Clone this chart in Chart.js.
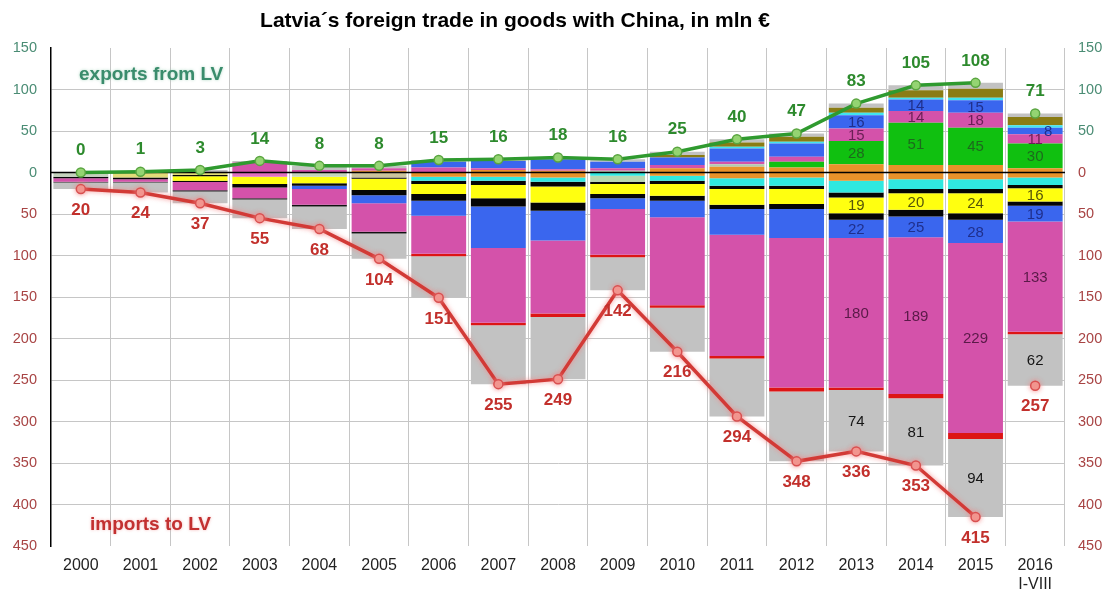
<!DOCTYPE html>
<html><head><meta charset="utf-8">
<script src="https://cdn.jsdelivr.net/npm/chart.js@4.4.1/dist/chart.umd.min.js"></script>
<style>html,body{margin:0;padding:0;background:#fff}canvas{display:block}</style>
</head><body>
<canvas id="c" width="1118" height="598"></canvas>
<script>
// ---------- DATA ----------
const categories = ['2000','2001','2002','2003','2004','2005','2006','2007','2008','2009','2010','2011','2012','2013','2014','2015',['2016','I-VIII']];
const exportsTotal = [0,1,3,14,8,8,15,16,18,16,25,40,47,83,105,108,71];
const importsTotal = [20,24,37,55,68,104,151,255,249,142,216,294,348,336,353,415,257];
const yTicks = [150,100,50,0,-50,-100,-150,-200,-250,-300,-350,-400,-450];

// export components (mln €), stacked upward from 0
const eOrange = [0,0,0,0,0,2, 0,3,2,0, 5,7,6,10,9,9,5];
const eTeal   = [0,0,0,0,0,0, 0,0,0,2, 0,3,0,0,0,0,0];
const eGreen  = [0,0,0,0,0,0, 0,0,0,0, 0,0,7,28,51,45,30];
const ePink   = [0,0,0,12,3,3, 6,2,2,3, 4,3,6,15,14,18,11];
const eBlue   = [0,0,0,0,0,0, 7,9,12,8, 9,16,16,16,14,15,8];
const eCyan   = [0,0,0,0,0,0, 0,0,0,0, 0,2,2,3,2,3,3];
const eOlive  = [0,0,0,0,0,0, 0,0,0,0, 3,5,6,6,9,11,10];
const eGray   = [0,1,3,2,5,3, 2,2,2,3, 4,4,4,5,6,7,4];

// import components (mln €), stacked downward from 0
const iOrange = [0,0,0,0,0,0, 5,5,6,0, 4,7,6,10,8,8,6];
const iTeal   = [0,0,0,0,0,0, 5,5,5,4, 6,9,10,14,12,12,9];
const iPale   = [5,6,3,5,5,6, 0,0,0,7, 0,0,0,0,0,0,0];
const iBlack1 = [2,2,1.5,0,0,1.5, 4,5,6,3, 4,4,4,6,5,5,4];
const iYellow = [0,0,5.5,9,8,13.5, 12,16,19,12, 14,19,18,19,20,24,16];
const iBlack2 = [0,0,1.5,4,3,6.5, 8,10,10,5, 6,5,6,8,8,8,5];
const iBlue   = [0,0,0,0,4,9.5, 18,50,36,13, 20,31,35,22,25,28,19];
const iPink   = [4,3,10,13,19,34.5, 46,90,88,55, 106,146,180,180,189,229,133];
const iRed    = [1,1,1.5,1.5,2,2, 3,3,4,3, 3,3,5,3,5,7,3];
const iGray   = [8,12,14,22.5,27,30.5, 50,71,75,40, 53,70,84,74,81,94,62];

// ---------- STYLE ----------
const FONT = "'Liberation Sans', Arial, sans-serif";
const GREEN_TXT = '#4a8c74', RED_TXT = '#a84444';
const n = categories.length;
const paleColors = ['#c4d2bc','#e2dc78','#e2dc78','#e070c0','#c4d4bc','#ccc49c','#c4d4bc','#c4d4bc','#c4d4bc','#b8d8b0','#ccc','#ccc','#ccc','#ccc','#ccc','#ccc','#ccc'];
const redColors = categories.map((c,i)=> i < 6 ? '#111111' : '#dd1515');

function bar(label, arr, color, sign, labelColor) {
  return { type:'bar', label, data: arr.map(v => sign*v), backgroundColor: color,
           yAxisID:'y', order: 1, borderWidth: 0, categoryPercentage: 0.92, barPercentage: 1.0,
           _lbl: labelColor || null };
}

const datasets = [
  { type:'line', label:'exports', data: exportsTotal, yAxisID:'y2', order:-2,
    borderColor:'#2f9a2f', borderWidth:3.5, pointRadius:4.5, pointBackgroundColor:'#94d472',
    pointBorderColor:'#5aa540', pointBorderWidth:1.5, tension:0, fill:false,
    segment:{ borderColor: c => c.p0DataIndex === n-2 ? 'rgba(0,0,0,0)' : undefined } },
  { type:'line', label:'imports', data: importsTotal.map(v=>-v), yAxisID:'y2', order:-1,
    borderColor:'#d23a36', borderWidth:3.5, pointRadius:4.5, pointBackgroundColor:'#f29a92',
    pointBorderColor:'#d85050', pointBorderWidth:1.5, tension:0, fill:false,
    segment:{ borderColor: c => c.p0DataIndex === n-2 ? 'rgba(0,0,0,0)' : undefined } },
  bar('eOrange', eOrange, '#e8922a', 1),
  bar('eTeal', eTeal, '#b0ccb0', 1),
  bar('eGreen', eGreen, '#10c010', 1, '#1d6a1d'),
  bar('ePink', ePink, '#d452aa', 1, '#6a1f55'),
  bar('eBlue', eBlue, '#3a66ee', 1, '#1f2f8c'),
  bar('eCyan', eCyan, '#40e4f0', 1),
  bar('eOlive', eOlive, '#8a7c14', 1),
  bar('eGray', eGray, '#c2c2c2', 1),
  bar('iOrange', iOrange, '#e8922a', -1),
  bar('iTeal', iTeal, '#30e8e0', -1),
  bar('iPale', iPale, paleColors, -1),
  bar('iBlack1', iBlack1, '#050505', -1),
  bar('iYellow', iYellow, '#ffff10', -1, '#55550a'),
  bar('iBlack2', iBlack2, '#050505', -1),
  bar('iBlue', iBlue, '#3a66ee', -1, '#1f2f8c'),
  bar('iPink', iPink, '#d452aa', -1, '#5a1a48'),
  bar('iRed', iRed, redColors, -1),
  bar('iGray', iGray, '#c2c2c2', -1, '#151515'),
];

const drawPlugin = {
  id:'drawPlugin',
  beforeDraw(chart){ chart._zeroDone = false; },
  beforeDatasetDraw(chart, args){
    if (args.meta.type === 'line' && !chart._zeroDone) {
      chart._zeroDone = true;
      const ctx = chart.ctx, a = chart.chartArea, y0 = chart.scales.y.getPixelForValue(0);
      ctx.save(); ctx.strokeStyle = '#000'; ctx.lineWidth = 1.5;
      ctx.beginPath(); ctx.moveTo(a.left, y0); ctx.lineTo(a.right, y0); ctx.stroke(); ctx.restore();
    }
    if (args.meta.type === 'line' && args.meta.label === 'imports') {
      const ctx = chart.ctx; ctx.save();
      ctx.shadowColor = 'rgba(245,130,130,0.85)'; ctx.shadowBlur = 5;
      chart._shadowed = true;
    }
  },
  afterDatasetDraw(chart, args){
    if (chart._shadowed && args.meta.label === 'imports') { chart.ctx.restore(); chart._shadowed = false; }
  },
  afterDatasetsDraw(chart){
    const ctx = chart.ctx;
    ctx.save();
    // segment labels inside bars
    chart.data.datasets.forEach((ds, di) => {
      if (ds.type !== 'bar' || !ds._lbl) return;
      const meta = chart.getDatasetMeta(di);
      meta.data.forEach((el, j) => {
        if (j < 13) return;
        const v = Math.abs(ds.data[j]);
        if (!v) return;
        const cy = (el.y + el.base) / 2;
        let cx = el.x;
        if (v < 10) cx += 13;
        ctx.font = "15px " + FONT; ctx.fillStyle = ds._lbl;
        ctx.textAlign = 'center'; ctx.textBaseline = 'middle';
        ctx.fillText(String(v), cx, cy + 1);
      });
    });
    // totals labels
    const em = chart.getDatasetMeta(0), im = chart.getDatasetMeta(1);
    ctx.font = "bold 17px " + FONT; ctx.textAlign = 'center'; ctx.textBaseline = 'middle';
    em.data.forEach((p, j) => { ctx.fillStyle = '#2d8a2d'; ctx.fillText(String(exportsTotal[j]), p.x, p.y - 22); });
    im.data.forEach((p, j) => { ctx.fillStyle = '#c2302c'; ctx.fillText(String(importsTotal[j]), p.x, p.y + 21); });
    // annotations
    ctx.font = "bold 19px " + FONT; ctx.textAlign = 'left';
    ctx.shadowColor = 'rgba(140,200,170,0.7)'; ctx.shadowBlur = 3;
    ctx.fillStyle = '#3a8c6c'; ctx.fillText('exports from LV', 79, 75);
    ctx.shadowColor = 'rgba(240,150,150,0.7)';
    ctx.fillStyle = '#c23030'; ctx.fillText('imports to LV', 90, 525);
    ctx.shadowBlur = 0; ctx.shadowColor = 'rgba(0,0,0,0)';
    // title
    ctx.font = "bold 21px " + FONT; ctx.textAlign = 'center'; ctx.fillStyle = '#000';
    ctx.fillText('Latvia\u00b4s foreign trade in goods with China, in mln \u20ac', 515, 21);
    ctx.restore();
  }
};

const yCommon = {
  min: -450, max: 150,
  afterBuildTicks: s => { s.ticks = yTicks.map(v => ({ value: v })); },
};

new Chart(document.getElementById('c'), {
  type:'bar',
  data:{ labels: categories, datasets },
  options:{
    responsive:false, animation:false, devicePixelRatio:1,
    layout:{ padding:{ top:48, left:0, right:0, bottom:0 } },
    plugins:{ legend:{display:false}, title:{display:false}, tooltip:{enabled:false} },
    scales:{
      x:{ stacked:true, offset:true,
          grid:{ offset:true, color:'#c6c6c6', lineWidth:1, drawTicks:false },
          border:{ display:false },
          ticks:{ color:'#222', font:{ family:FONT, size:16 }, padding:10, maxRotation:0, autoSkip:false },
          afterFit: s => { s.height = 52; } },
      y:{ ...yCommon, stacked:true, position:'left',
          grid:{ drawTicks:false, color: c => (c.tick.value === 150 || c.tick.value === -450) ? 'rgba(0,0,0,0)' : '#c6c6c6' },
          border:{ display:true, color:'#000', width:1.5 },
          ticks:{ padding:14, font:{ family:FONT, size:14.5 }, callback: v => String(Math.abs(v)),
                  color: c => c.tick.value >= 0 ? GREEN_TXT : RED_TXT },
          afterFit: s => { s.width = 51; } },
      y2:{ ...yCommon, stacked:false, position:'right',
          grid:{ display:false, drawTicks:false },
          border:{ display:false },
          ticks:{ padding:13, font:{ family:FONT, size:14.5 }, callback: v => String(Math.abs(v)),
                  color: c => c.tick.value > 0 ? GREEN_TXT : RED_TXT },
          afterFit: s => { s.width = 53; } }
    }
  },
  plugins:[drawPlugin]
});
</script>
</body></html>
